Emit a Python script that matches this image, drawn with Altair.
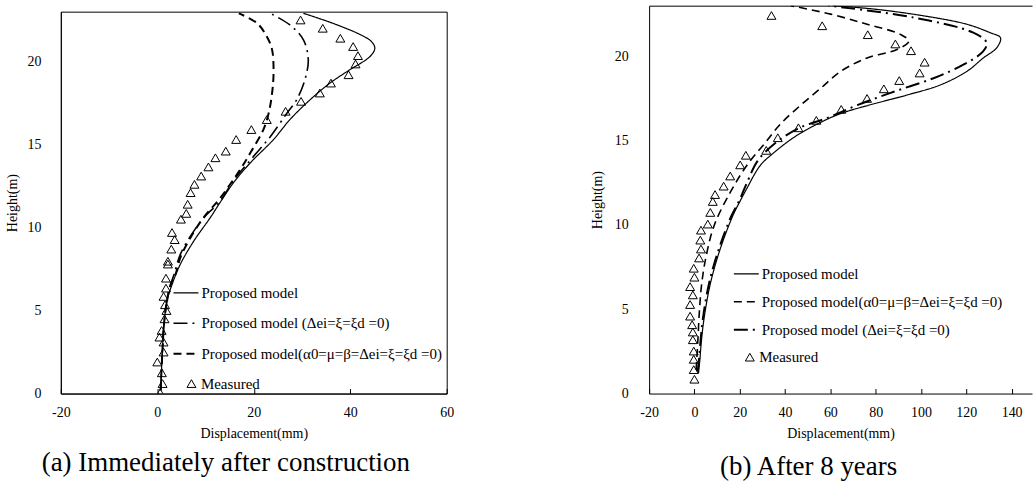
import altair as alt
import pandas as pd

S1 = "Proposed model"
S2 = "Proposed model (Δei=ξ=ξd =0)"
S3 = "Proposed model(α0=μ=β=Δei=ξ=ξd =0)"
MEAS = "Measured"
FONT = "Liberation Serif"

# ---------- (a) Immediately after construction ----------
A_solid_h = [0.2, 2.2, 4.2, 5.6, 6.6, 7.8, 9.2, 10.6, 11.5, 12.7, 13.9, 15.3, 16.5, 17.7, 18.7, 19.5, 20.3, 20.8, 21.2, 21.6, 22.3, 22.9]
A_solid_d = [0.7, 1.0, 1.4, 2.05, 3.1, 4.8, 7.6, 11.0, 13.0, 15.8, 19.3, 24.1, 27.5, 31.7, 35.8, 39.9, 44.1, 45.1, 44.4, 42.2, 36.4, 30.3]
A_dd_h = [0.2, 2.2, 4.2, 5.6, 6.4, 7.2, 8.4, 9.8, 10.8, 11.5, 12.9, 14.3, 15.5, 16.9, 17.7, 18.9, 20.1, 21.3, 22.2, 22.9]
A_dd_d = [0.7, 1.0, 1.4, 2.0, 2.6, 3.5, 4.8, 7.6, 10.3, 12.8, 16.0, 20.0, 23.5, 26.9, 28.9, 30.6, 31.3, 30.3, 27.5, 23.4]
A_dash_h = [0.2, 2.2, 4.2, 5.6, 6.6, 7.2, 8.2, 9.4, 10.6, 11.8, 13.5, 14.5, 15.9, 16.9, 18.1, 19.3, 20.7, 21.5, 22.3, 22.9]
A_dash_d = [0.7, 1.0, 1.4, 2.0, 2.8, 3.8, 4.8, 6.9, 9.6, 13.1, 17.2, 19.3, 22.0, 23.1, 23.8, 24.1, 23.8, 22.7, 20.7, 16.9]
A_meas_h = [0.05, 0.6, 1.25, 1.9, 2.5, 3.1, 3.4, 3.8, 4.5, 5.0, 5.35, 5.85, 6.35, 6.95, 7.8, 7.97, 8.7, 9.27, 9.7, 10.5,
            10.85, 11.4, 12.1, 12.6, 13.1, 13.65, 14.2, 14.6, 15.3, 15.9, 16.5, 17.0, 17.6, 18.1, 18.7, 19.2, 19.85,
            20.35, 20.9, 21.4, 22.0, 22.5]
A_meas_d = [0.6, 1.1, 0.95, 0.0, 1.3, 1.3, 0.45, 0.9, 1.5, 1.9, 1.6, 1.3, 1.8, 1.8, 2.2, 2.2, 2.9, 3.6, 3.05, 4.9,
            6.0, 6.3, 6.9, 7.7, 9.1, 10.6, 12.05, 14.2, 16.35, 19.5, 22.7, 26.6, 29.8, 33.7, 36.0, 39.65, 41.1,
            41.6, 40.6, 37.95, 34.3, 29.7]

# ---------- (b) After 8 years ----------
B_solid_h = [1.2, 2.0, 3.0, 4.5, 6.5, 8.5, 10.5, 11.5, 12.3, 13.0, 13.6, 14.3, 15.2, 16.0, 16.6, 17.1, 17.7, 18.3, 19.1, 19.9, 20.5, 21.1, 21.4, 21.9, 22.4, 22.8, 23.0]
B_solid_d = [1.8, 2.4, 3.0, 4.3, 7.0, 11.2, 16.8, 20.5, 23.7, 26.5, 29.5, 35.2, 44.0, 54.5, 64.5, 77.0, 93.8, 108.5, 120.2, 127.5, 133.4, 135.1, 130.5, 120.2, 101.1, 79.2, 61.0]
B_dd_h = [1.3, 2.0, 3.0, 4.5, 6.5, 8.5, 10.5, 11.5, 12.6, 13.8, 14.8, 15.7, 16.35, 17.1, 17.9, 18.7, 19.5, 20.3, 20.8, 21.4, 22.3, 23.0]
B_dd_d = [1.4, 2.0, 2.6, 3.8, 6.4, 10.6, 16.2, 20.0, 23.5, 27.9, 35.2, 45.5, 58.7, 71.9, 88.0, 105.5, 118.7, 127.5, 129.0, 123.1, 96.7, 59.2]
B_dash_h = [1.4, 3.1, 4.9, 6.5, 8.1, 10.0, 12.0, 13.6, 14.8, 16.0, 17.1, 18.1, 19.1, 19.9, 20.4, 20.9, 21.3, 21.9, 22.5, 23.0]
B_dash_d = [0.75, 1.5, 2.2, 3.2, 5.1, 8.8, 16.1, 23.5, 30.8, 38.1, 46.9, 55.7, 64.5, 76.2, 89.4, 94.6, 90.9, 76.2, 60.1, 42.5]
B_meas_h = [0.85, 1.42, 2.03, 2.52, 3.19, 3.65, 4.08, 4.59, 5.28, 5.85, 6.34, 6.9, 7.43, 8.04, 8.57, 9.1, 9.69, 10.05,
            10.74, 11.39, 11.8, 12.3, 12.9, 13.56, 14.13, 14.42, 15.17, 15.76, 16.2, 16.85, 17.5, 18.07, 18.56, 19.01,
            19.65, 20.33, 20.73, 21.28, 21.81, 22.42]
B_meas_d = [0.0, -0.3, -0.3, -0.3, -0.7, -0.7, -1.0, -1.9, -1.9, -0.7, -1.9, 0.0, -0.3, 2.05, 2.9, 2.6, 2.9, 5.9,
            7.0, 8.1, 9.1, 12.9, 15.8, 20.2, 22.7, 31.7, 36.8, 45.9, 53.8, 64.8, 76.2, 83.6, 90.4, 99.4,
            101.6, 95.6, 88.7, 76.5, 56.4, 34.0]

A_xticks = [-20, 0, 20, 40, 60]
B_xticks = [-20, 0, 20, 40, 60, 80, 100, 120, 140]
Y_ticks = [0, 5, 10, 15, 20]

DASH = {S1: [1, 0], S2: [14, 5, 2, 5], S3: [8, 5]}
WIDTH = {S1: 1.2, S2: 2.0, S3: 2.0}


def line_df(series):
    rows = []
    for name, hs, ds in series:
        for i, (h, d) in enumerate(zip(hs, ds)):
            rows.append({"series": name, "h": h, "disp": d, "idx": i})
    return pd.DataFrame(rows)


def meas_df(hs, ds):
    return pd.DataFrame({"h": hs, "disp": ds, "kind": [MEAS] * len(hs)})


def panel(ldf, mdf, order, xdom, xticks, w, h, ylab_pad, ytitle_pad, leg, mleg,
          boxed, caption, cap_dx, cap_offset):
    xscale = alt.Scale(domain=xdom, nice=False, zero=False)
    yscale = alt.Scale(domain=[0, 23], nice=False, zero=False)
    x_axis = alt.Axis(values=xticks, title="Displacement(mm)", grid=False, ticks=False, tickSize=0,
                      labelPadding=12, titlePadding=7, domain=True, domainColor="black",
                      labelExpr="'' + datum.value",
                      labelFont=FONT, labelFontSize=14, labelColor="black", labelFlush=False,
                      titleFont=FONT, titleFontSize=14, titleFontWeight="normal", titleColor="black")
    y_axis = alt.Axis(values=Y_ticks, title="Height(m)", grid=False, ticks=False, tickSize=0,
                      labelPadding=ylab_pad, titlePadding=ytitle_pad, domain=True, domainColor="black",
                      labelFont=FONT, labelFontSize=14, labelColor="black",
                      titleFont=FONT, titleFontSize=14, titleFontWeight="normal", titleColor="black")
    tick_axis = alt.Axis(orient="bottom", offset=-5, values=xticks, ticks=True, tickSize=5,
                         tickColor="black", tickWidth=1, labels=False, domain=False, grid=False, title=None)
    Y = alt.Y("h:Q", scale=yscale, axis=y_axis)
    lines = alt.Chart(ldf).mark_line(clip=True, interpolate="catmull-rom", color="black").encode(
        x=alt.X("disp:Q", scale=xscale, axis=x_axis),
        y=Y,
        strokeDash=alt.StrokeDash(
            "series:N", scale=alt.Scale(domain=order, range=[DASH[s] for s in order]),
            legend=alt.Legend(orient="none", legendX=leg[0], legendY=leg[1], title=None,
                              labelFont=FONT, labelFontSize=15, labelColor="black", labelLimit=0,
                              symbolType="stroke", symbolSize=625, symbolStrokeWidth=1.6,
                              symbolStrokeColor="black", labelOffset=2, rowPadding=leg[2], padding=0)),
        strokeWidth=alt.StrokeWidth(
            "series:N", scale=alt.Scale(domain=order, range=[WIDTH[s] for s in order]), legend=None),
        order="idx:Q",
    )
    pts = alt.Chart(mdf).mark_point(shape="triangle-up", filled=False, color="black", size=80,
                                    strokeWidth=1, opacity=1, clip=True).encode(
        x=alt.X("disp:Q", scale=xscale, axis=tick_axis),
        y=Y,
        shape=alt.Shape(
            "kind:N", scale=alt.Scale(domain=[MEAS], range=["triangle-up"]),
            legend=alt.Legend(orient="none", legendX=mleg[0], legendY=mleg[1], title=None,
                              labelFont=FONT, labelFontSize=15, labelColor="black",
                              symbolSize=80, symbolStrokeWidth=1, symbolStrokeColor="black",
                              symbolFillColor="transparent", labelOffset=mleg[2], padding=0)),
    )
    layers = [lines, pts]
    if not boxed:
        top = alt.Chart(mdf).mark_point(opacity=0).encode(
            x=alt.X("disp:Q", scale=xscale,
                    axis=alt.Axis(orient="top", domain=True, domainColor="black", ticks=False,
                                  labels=False, grid=False, title=None)),
            y=Y,
        )
        layers.append(top)
    ch = alt.layer(*layers).resolve_axis(x="independent").properties(
        width=w, height=h,
        title=alt.TitleParams(caption, orient="bottom", anchor="middle", dx=cap_dx, offset=cap_offset,
                              fontSize=27, font=FONT, fontWeight="normal", color="black"),
        view=alt.ViewBackground(stroke="black" if boxed else "transparent", strokeWidth=1),
    )
    return ch


left = panel(
    line_df([(S1, A_solid_h, A_solid_d), (S2, A_dd_h, A_dd_d), (S3, A_dash_h, A_dash_d)]),
    meas_df(A_meas_h, A_meas_d),
    [S1, S2, S3], [-20, 60], A_xticks, 387, 383, 20, 7,
    (112, 268.5, 8.5), (123.5, 365.5, 2), True,
    "(a) Immediately after construction", -28, 10,
)
right = panel(
    line_df([(S1, B_solid_h, B_solid_d), (S3, B_dash_h, B_dash_d), (S2, B_dd_h, B_dd_d)]),
    meas_df(B_meas_h, B_meas_d),
    [S1, S3, S2], [-20, 149], B_xticks, 384, 389, 21, 10,
    (84, 255.5, 6), (93.5, 345, 2), False,
    "(b) After 8 years", -32, 14,
)

# thin invisible spacer that lowers panel (a) a few pixels below panel (b)
spacer = alt.Chart(pd.DataFrame({"v": [0]})).mark_point(opacity=0, size=0, strokeWidth=0).encode(
    x=alt.X("v:Q", axis=None), y=alt.Y("v:Q", axis=None)
).properties(width=1, height=1, view=alt.ViewBackground(stroke="transparent"))

left_col = alt.vconcat(spacer, left, spacing=3).resolve_scale(
    x="independent", y="independent", strokeDash="independent",
    strokeWidth="independent", shape="independent",
)

chart = alt.hconcat(left_col, right, spacing=135).resolve_scale(
    x="independent", y="independent", strokeDash="independent",
    strokeWidth="independent", shape="independent",
).properties(
    padding={"left": 5, "top": 4, "right": 0, "bottom": 0},
    background="white",
)

chart.save("out.html", embed_options={"renderer": "svg", "actions": False})
